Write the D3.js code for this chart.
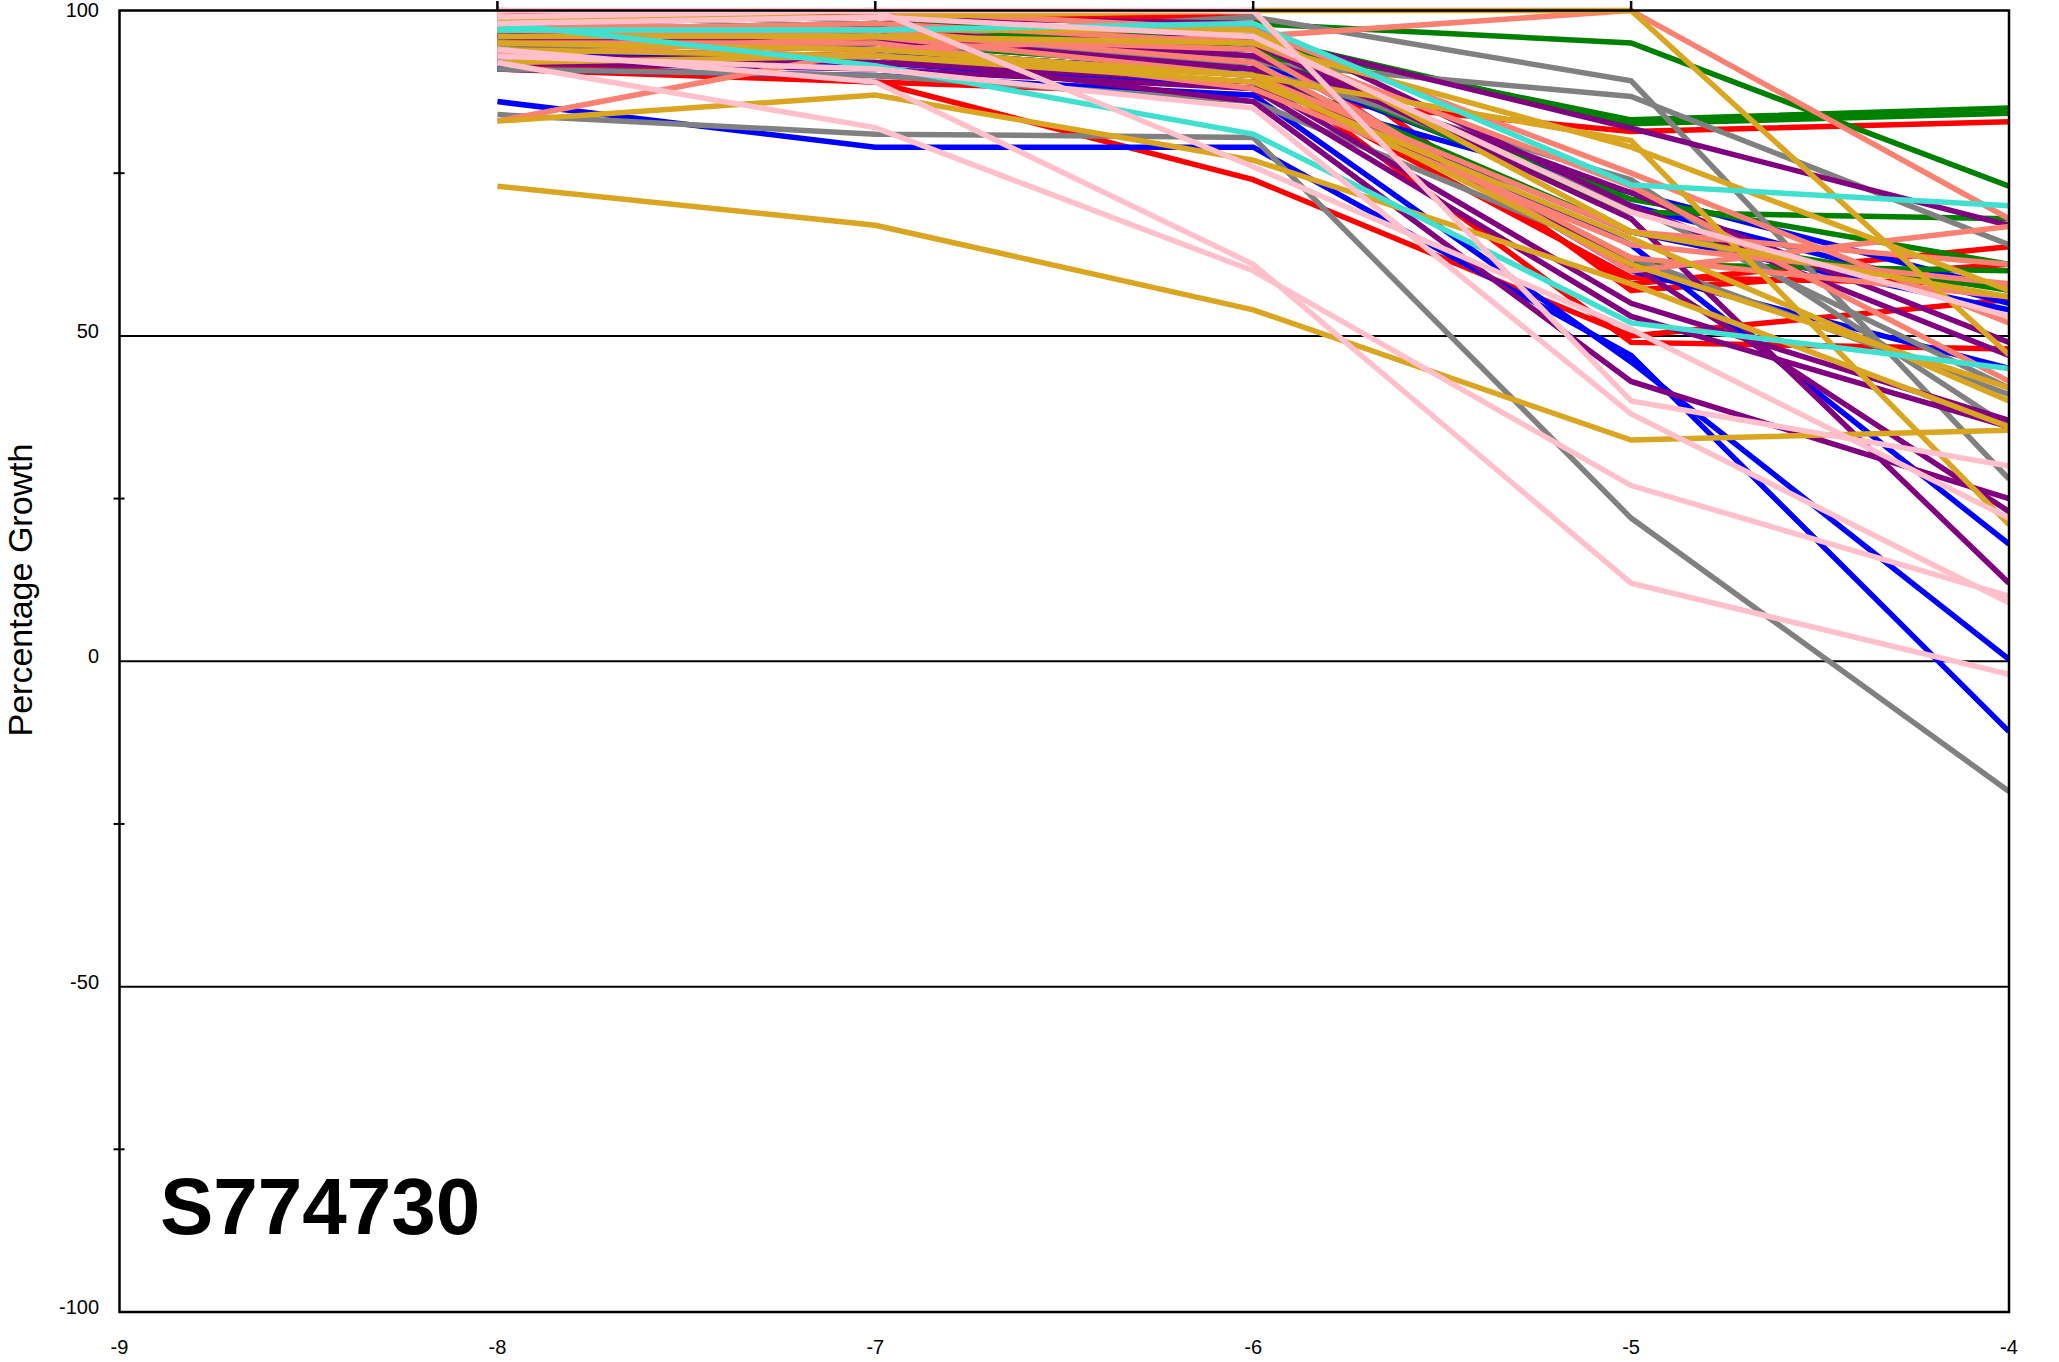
<!DOCTYPE html>
<html>
<head>
<meta charset="utf-8">
<script src="https://cdn.jsdelivr.net/npm/d3@7"></script>
<style>
  html, body { margin: 0; padding: 0; background: #fff; }
  svg { display: block; }
  text { font-family: "Liberation Sans", Arial, Helvetica, sans-serif; }
</style>
</head>
<body>
<svg id="chart" width="2059" height="1362"></svg>
<script>
// ---- data ----
const doses = [-8, -7, -6, -5, -4];
const xTicks = [-9, -8, -7, -6, -5, -4];
const yTicks = [100, 50, 0, -50, -100];
const yMinor = [75, 25, -25, -75];
const compoundLabel = "S774730";
const yTitle = "Percentage Growth";

const leukemia = [
  [91, 89, 87, 81.4, 82.9],
  [92, 89, 74, 50, 55.6],
  [97, 96, 92, 49, 48],
  [100, 99, 95, 58, 63.7],
  [95, 94, 90, 59, 58],
  [99, 99, 99, 57, 61]
];
const nsclc = [
  [86, 79, 79, 47, -10.8],
  [91, 90, 87, 46, 0.3],
  [93, 93, 91, 64, 18],
  [95, 95, 92, 70, 55],
  [97, 94, 90, 66, 54],
  [92, 92, 88, 72, 57],
  [96, 95, 94, 60, 45]
];
const colon = [
  [95, 97, 98, 95, 73],
  [96, 97, 95, 83.2, 85],
  [97, 98, 96, 82.6, 84.2],
  [95, 95, 92, 61, 60],
  [94, 96, 93, 69, 68],
  [96, 95, 91, 66, 57],
  [97, 98, 94, 71, 61]
];
const cns = [
  [84, 81, 80.5, 22, -20],
  [95, 96, 99, 89.2, 28],
  [94, 95, 92, 86.8, 64],
  [91, 90, 86, 62, 41],
  [95, 95, 93, 70, 42],
  [97, 97, 91, 74, 36]
];
const melanoma = [
  [96, 95, 96, 81.9, 67],
  [96, 98, 95, 68, 12],
  [93, 92, 89, 55, 37],
  [94, 93, 86, 43, 25],
  [95, 96, 91, 61, 23],
  [97, 97, 93, 72, 49],
  [92, 91, 88, 53, 36],
  [98, 99, 98, 70, 47]
];
const ovarian = [
  [83, 94, 96, 100, 68],
  [97, 96, 94, 60, 66.8],
  [93, 96, 90, 66, 61],
  [95, 95, 88, 64, 58],
  [98, 97, 92, 62, 56],
  [97, 98, 95, 73, 43],
  [99, 100, 97, 75, 52]
];
const renal = [
  [73, 67, 54, 34, 35.5],
  [98.7, 99, 100, 100, 47.1],
  [83, 87, 77, 58, 36],
  [96, 96, 95, 79, 57],
  [94, 93, 89, 65, 40],
  [95, 94, 90, 80, 21],
  [92, 93, 90, 61, 42],
  [97, 97, 97, 66, 56]
];
const prostate = [
  [98, 91.5, 81, 52, 45],
  [97, 97, 98, 73.2, 70]
];
const breast = [
  [92, 82, 60, 27, 10],
  [94, 89, 61, 12, -2],
  [100, 100, 100, 40, 30],
  [98, 99, 96, 69, 53],
  [99, 100, 76, 51, 22],
  [93, 91, 85, 38, 9]
];

const panels = [
  { name: "Leukemia", color: "#ff0000", rows: leukemia },
  { name: "NSCLC", color: "#0000ff", rows: nsclc },
  { name: "Colon", color: "#008000", rows: colon },
  { name: "CNS", color: "#808080", rows: cns },
  { name: "Melanoma", color: "#800080", rows: melanoma },
  { name: "Ovarian", color: "#fa8072", rows: ovarian },
  { name: "Renal", color: "#daa520", rows: renal },
  { name: "Prostate", color: "#40e0d0", rows: prostate },
  { name: "Breast", color: "#ffc0cb", rows: breast }
];

// ---- layout ----
const svg = d3.select("#chart");
const L = 119.5, R = 2009, T = 10.5, B = 1312;
const x = d3.scaleLinear().domain([-9, -4]).range([L, R]);
const y = d3.scaleLinear().domain([-100, 100]).range([B, T]);

svg.append("defs").append("clipPath").attr("id", "plotclip")
  .append("rect").attr("x", L).attr("y", 0).attr("width", R - L).attr("height", B);

// grid lines (50, 0, -50)
svg.append("g").selectAll("line").data([50, 0, -50]).join("line")
  .attr("x1", L).attr("x2", R)
  .attr("y1", d => y(d)).attr("y2", d => y(d))
  .attr("stroke", "#000").attr("stroke-width", 2);

// series lines
const line = d3.line()
  .x((d, i) => x(doses[i]))
  .y(d => y(Math.min(100, d)));

const g = svg.append("g").attr("clip-path", "url(#plotclip)");
panels.forEach(p => {
  g.append("g").selectAll("path").data(p.rows).join("path")
    .attr("d", d => line(d))
    .attr("fill", "none")
    .attr("stroke", p.color)
    .attr("stroke-width", 5.5)
    .attr("stroke-linejoin", "miter");
});

// frame
svg.append("rect").attr("x", L).attr("y", T).attr("width", R - L).attr("height", B - T)
  .attr("fill", "none").attr("stroke", "#000").attr("stroke-width", 2.5);

// top ticks
svg.append("g").selectAll("line").data(doses.slice(0, 4)).join("line")
  .attr("x1", d => x(d)).attr("x2", d => x(d))
  .attr("y1", T).attr("y2", 1)
  .attr("stroke", "#000").attr("stroke-width", 2.5);

// left minor ticks
svg.append("g").selectAll("line").data(yMinor).join("line")
  .attr("x1", L - 6).attr("x2", L + 5)
  .attr("y1", d => y(d)).attr("y2", d => y(d))
  .attr("stroke", "#000").attr("stroke-width", 2);

// y tick labels
svg.append("g").selectAll("text").data(yTicks).join("text")
  .attr("x", 99).attr("y", d => Math.max(y(d) - 5, 10))
  .attr("text-anchor", "end").attr("dominant-baseline", "central")
  .attr("font-size", 20).attr("fill", "#000")
  .text(d => d);

// x tick labels
svg.append("g").selectAll("text").data(xTicks).join("text")
  .attr("x", d => x(d)).attr("y", 1347)
  .attr("text-anchor", "middle").attr("dominant-baseline", "central")
  .attr("font-size", 20).attr("fill", "#000")
  .text(d => d);

// y axis title
svg.append("text")
  .attr("transform", "translate(32,590) rotate(-90)")
  .attr("text-anchor", "middle")
  .attr("font-size", 34).attr("fill", "#000")
  .text(yTitle);

// compound label
svg.append("text")
  .attr("x", 160).attr("y", 1234)
  .attr("font-size", 80).attr("font-weight", "bold").attr("fill", "#000")
  .text(compoundLabel);
</script>
</body>
</html>
